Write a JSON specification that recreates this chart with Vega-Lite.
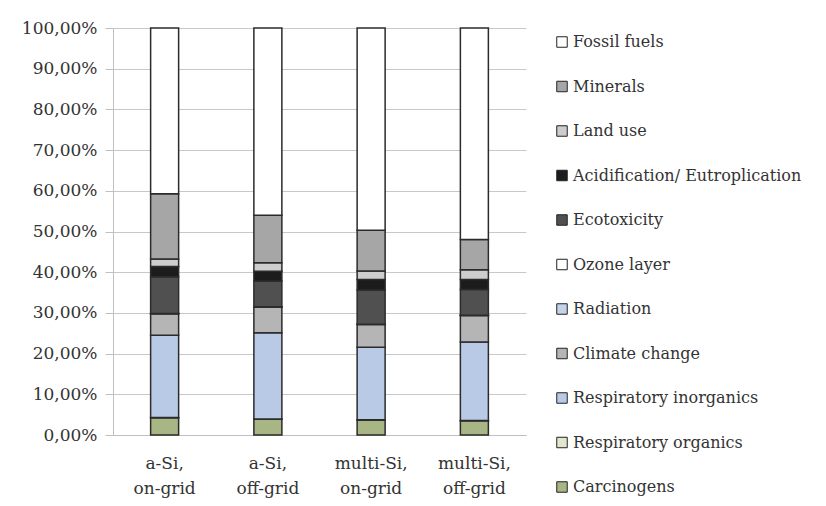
{
  "$schema": "https://vega.github.io/schema/vega-lite/v6.json",
  "width": 413,
  "height": 407,
  "autosize": "none",
  "padding": {"left": 113, "top": 28, "right": 300, "bottom": 71},
  "background": "white",
  "config": {
    "view": {"stroke": null},
    "font": "DejaVu Serif",
    "axis": {"labelFont": "DejaVu Serif", "labelColor": "#333333"},
    "legend": {"labelFont": "DejaVu Serif", "labelColor": "#333333"}
  },
  "data": {
    "values": [
      {"system": "a-Si,|on-grid", "impact": "Carcinogens", "share": 4.25},
      {"system": "a-Si,|on-grid", "impact": "Respiratory organics", "share": 0.05},
      {"system": "a-Si,|on-grid", "impact": "Respiratory inorganics", "share": 20.2},
      {"system": "a-Si,|on-grid", "impact": "Climate change", "share": 5.3},
      {"system": "a-Si,|on-grid", "impact": "Radiation", "share": 0.05},
      {"system": "a-Si,|on-grid", "impact": "Ozone layer", "share": 0.02},
      {"system": "a-Si,|on-grid", "impact": "Ecotoxicity", "share": 9.0},
      {"system": "a-Si,|on-grid", "impact": "Acidification/ Eutroplication", "share": 2.5},
      {"system": "a-Si,|on-grid", "impact": "Land use", "share": 1.9},
      {"system": "a-Si,|on-grid", "impact": "Minerals", "share": 16.0},
      {"system": "a-Si,|on-grid", "impact": "Fossil fuels", "share": 40.73},
      {"system": "a-Si,|off-grid", "impact": "Carcinogens", "share": 3.9},
      {"system": "a-Si,|off-grid", "impact": "Respiratory organics", "share": 0.05},
      {"system": "a-Si,|off-grid", "impact": "Respiratory inorganics", "share": 21.2},
      {"system": "a-Si,|off-grid", "impact": "Climate change", "share": 6.3},
      {"system": "a-Si,|off-grid", "impact": "Radiation", "share": 0.05},
      {"system": "a-Si,|off-grid", "impact": "Ozone layer", "share": 0.02},
      {"system": "a-Si,|off-grid", "impact": "Ecotoxicity", "share": 6.3},
      {"system": "a-Si,|off-grid", "impact": "Acidification/ Eutroplication", "share": 2.4},
      {"system": "a-Si,|off-grid", "impact": "Land use", "share": 2.1},
      {"system": "a-Si,|off-grid", "impact": "Minerals", "share": 11.7},
      {"system": "a-Si,|off-grid", "impact": "Fossil fuels", "share": 45.98},
      {"system": "multi-Si,|on-grid", "impact": "Carcinogens", "share": 3.7},
      {"system": "multi-Si,|on-grid", "impact": "Respiratory organics", "share": 0.05},
      {"system": "multi-Si,|on-grid", "impact": "Respiratory inorganics", "share": 17.8},
      {"system": "multi-Si,|on-grid", "impact": "Climate change", "share": 5.6},
      {"system": "multi-Si,|on-grid", "impact": "Radiation", "share": 0.05},
      {"system": "multi-Si,|on-grid", "impact": "Ozone layer", "share": 0.02},
      {"system": "multi-Si,|on-grid", "impact": "Ecotoxicity", "share": 8.4},
      {"system": "multi-Si,|on-grid", "impact": "Acidification/ Eutroplication", "share": 2.6},
      {"system": "multi-Si,|on-grid", "impact": "Land use", "share": 2.1},
      {"system": "multi-Si,|on-grid", "impact": "Minerals", "share": 10.0},
      {"system": "multi-Si,|on-grid", "impact": "Fossil fuels", "share": 49.68},
      {"system": "multi-Si,|off-grid", "impact": "Carcinogens", "share": 3.5},
      {"system": "multi-Si,|off-grid", "impact": "Respiratory organics", "share": 0.05},
      {"system": "multi-Si,|off-grid", "impact": "Respiratory inorganics", "share": 19.3},
      {"system": "multi-Si,|off-grid", "impact": "Climate change", "share": 6.5},
      {"system": "multi-Si,|off-grid", "impact": "Radiation", "share": 0.05},
      {"system": "multi-Si,|off-grid", "impact": "Ozone layer", "share": 0.02},
      {"system": "multi-Si,|off-grid", "impact": "Ecotoxicity", "share": 6.3},
      {"system": "multi-Si,|off-grid", "impact": "Acidification/ Eutroplication", "share": 2.5},
      {"system": "multi-Si,|off-grid", "impact": "Land use", "share": 2.4},
      {"system": "multi-Si,|off-grid", "impact": "Minerals", "share": 7.4},
      {"system": "multi-Si,|off-grid", "impact": "Fossil fuels", "share": 51.98}
    ]
  },
  "transform": [
    {"calculate": "indexof(['Carcinogens','Respiratory organics','Respiratory inorganics','Climate change','Radiation','Ozone layer','Ecotoxicity','Acidification/ Eutroplication','Land use','Minerals','Fossil fuels'], datum.impact)", "as": "stackOrder"}
  ],
  "mark": {"type": "bar", "width": 28, "stroke": "#2b2b2b", "strokeWidth": 1.5},
  "encoding": {
    "x": {
      "field": "system",
      "type": "nominal",
      "sort": null,
      "scale": {"paddingInner": 0, "paddingOuter": 0},
      "axis": {
        "title": null,
        "labelAngle": 0,
        "labelExpr": "split(datum.label, '|')",
        "labelFontSize": 17,
        "labelLineHeight": 25,
        "labelPadding": 20,
        "ticks": false,
        "domainColor": "#bfbfbf",
        "domainWidth": 1
      }
    },
    "y": {
      "field": "share",
      "type": "quantitative",
      "stack": "zero",
      "scale": {"domain": [0, 100], "nice": false},
      "axis": {
        "title": null,
        "values": [0, 10, 20, 30, 40, 50, 60, 70, 80, 90, 100],
        "labelExpr": "replace(format(datum.value, '.2f'), '.', ',') + '%'",
        "labelFontSize": 17,
        "labelPadding": 8,
        "tickSize": 8,
        "tickColor": "#bfbfbf",
        "gridColor": "#c8c8c8",
        "domainColor": "#bfbfbf",
        "labelColor": "#333333"
      }
    },
    "color": {
      "field": "impact",
      "type": "nominal",
      "scale": {
        "domain": ["Fossil fuels", "Minerals", "Land use", "Acidification/ Eutroplication", "Ecotoxicity", "Ozone layer", "Radiation", "Climate change", "Respiratory inorganics", "Respiratory organics", "Carcinogens"],
        "range": ["#ffffff", "#a6a6a6", "#cdcdcd", "#1c1c1c", "#505050", "#ffffff", "#c5d3ea", "#b5b5b5", "#b9cae6", "#dfe8cc", "#a8b585"]
      },
      "legend": {
        "title": null,
        "orient": "none",
        "legendX": 441,
        "legendY": 6,
        "symbolType": "square",
        "symbolSize": 110,
        "symbolStrokeColor": "#222222",
        "symbolStrokeWidth": 1,
        "labelFontSize": 16,
        "labelOffset": 3,
        "rowPadding": 28.5,
        "labelLimit": 300
      }
    },
    "order": {"field": "stackOrder", "type": "quantitative"}
  }
}
